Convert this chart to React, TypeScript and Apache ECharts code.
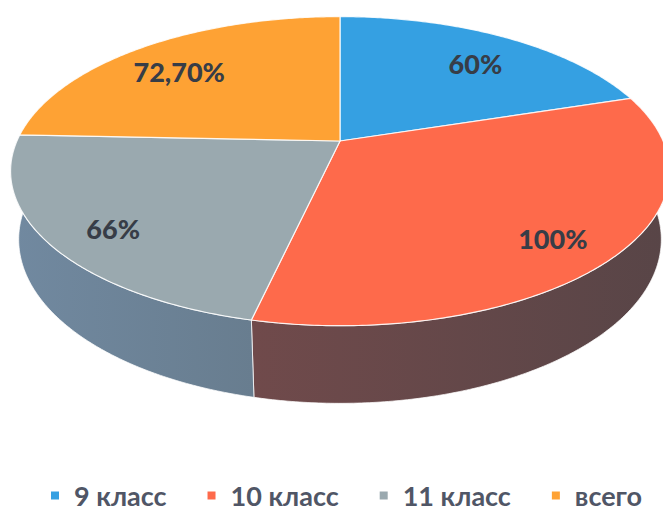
import React, { useEffect, useRef } from "react";
import * as echarts from "echarts";

const categories = ["9 класс", "10 класс", "11 класс", "всего"];
const values = [60, 100, 66, 72.7];
const valueLabels = ["60%", "100%", "66%", "72,70%"];

const topColors = ["#35a0e2", "#fe6a4b", "#9aa9af", "#fea234"];
const sideColors = [
  ["#1f6fa0", "#1a5a85"],
  ["#704a4b", "#584547"],
  ["#7189a0", "#687d8f"],
  ["#b0701f", "#8a5818"],
];

const FONT = "Lato, 'Open Sans', 'DejaVu Sans', sans-serif";

// projection constants (layout)
const CX = 340;
const CY = 141;
const FOCAL = 1470;
const DIST = 4.55;
const TILT = (27.4 * Math.PI) / 180;
const DEPTH = 0.24;
const LABEL_R = 0.8;
const LABEL_DY = 8;

function proj(theta: number, r: number, z: number): number[] {
  const x = r * Math.sin(theta);
  const y = r * Math.cos(theta);
  const v = y * Math.sin(TILT) + z * Math.cos(TILT);
  const d = y * Math.cos(TILT) - z * Math.sin(TILT);
  const s = FOCAL / (DIST + d);
  return [CX + x * s, CY - v * s];
}

function arc(t1: number, t2: number, z: number): number[][] {
  const n = Math.max(2, Math.ceil(Math.abs(t2 - t1) / 0.01));
  const pts: number[][] = [];
  for (let k = 0; k <= n; k++) {
    pts.push(proj(t1 + ((t2 - t1) * k) / n, 1, z));
  }
  return pts;
}

export default function App() {
  const ref = useRef<HTMLDivElement>(null);
  useEffect(() => {
    if (!ref.current) return;
    const chart = echarts.init(ref.current, null, { renderer: "svg" });
    const total = values.reduce((a, b) => a + b, 0);
    const starts: number[] = [];
    let acc = 0;
    values.forEach((v) => {
      starts.push(acc);
      acc += v;
    });

    const series = categories.map((name, i) => ({
      type: "custom",
      name,
      coordinateSystem: "none",
      data: [values[i]],
      itemStyle: { color: topColors[i] },
      z: 2,
      renderItem: (params: any) => {
        const si = params.seriesIndex;
        const t1 = (starts[si] / total) * Math.PI * 2;
        const t2 = ((starts[si] + values[si]) / total) * Math.PI * 2;
        const children: any[] = [];
        const s1 = Math.max(t1, Math.PI / 2);
        const s2 = Math.min(t2, (Math.PI * 3) / 2);
        if (s2 > s1) {
          const top = arc(s1, s2, 0);
          const bottom = arc(s2, s1, -DEPTH);
          children.push({
            type: "polygon",
            shape: { points: top.concat(bottom) },
            style: {
              fill: new echarts.graphic.LinearGradient(0, 0, 1, 0, [
                { offset: 0, color: sideColors[si][0] },
                { offset: 1, color: sideColors[si][1] },
              ]),
              stroke: "rgba(255,255,255,0.75)",
              lineWidth: 1,
            },
          });
        }
        const topPts = [proj(0, 0, 0)].concat(arc(t1, t2, 0));
        children.push({
          type: "polygon",
          shape: { points: topPts },
          style: {
            fill: topColors[si],
            stroke: "rgba(255,255,255,0.85)",
            lineWidth: 1.2,
          },
        });
        const mid = (t1 + t2) / 2;
        const lp = proj(mid, LABEL_R, 0);
        children.push({
          type: "text",
          x: lp[0],
          y: lp[1] + LABEL_DY,
          style: {
            text: valueLabels[si],
            fill: "#373d47",
            font: `900 27px ${FONT}`,
            textAlign: "center",
            textVerticalAlign: "middle",
            align: "center",
            verticalAlign: "middle",
          },
        });
        return { type: "group", children };
      },
    }));

    chart.setOption({
      animation: false,
      backgroundColor: "#ffffff",
      legend: {
        data: categories,
        left: 46,
        top: 477,
        icon: "rect",
        itemWidth: 8,
        itemHeight: 8,
        itemGap: 41,
        textStyle: {
          fontFamily: FONT,
          fontWeight: "bold",
          fontSize: 27,
          color: "#505666",
          padding: [0, 0, 0, 10],
        },
      },
      series,
    });
    return () => chart.dispose();
  }, []);
  return (
    <div
      ref={ref}
      style={{ position: "fixed", left: 0, top: 0, width: 663, height: 513 }}
    />
  );
}
